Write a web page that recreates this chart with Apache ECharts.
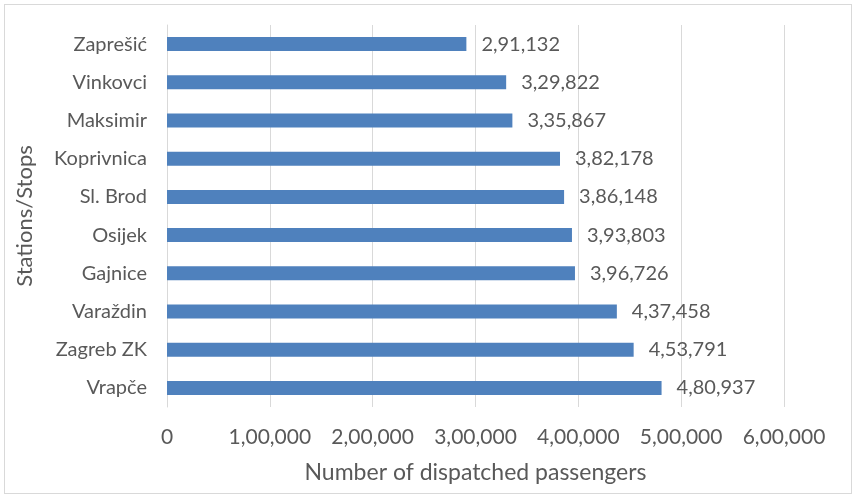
<!DOCTYPE html>
<html>
<head>
<meta charset="utf-8">
<script src="https://cdn.jsdelivr.net/npm/echarts@6/dist/echarts.min.js"></script>
<style>
    html, body { margin: 0; padding: 0; background: #fff; }
    #chart { width: 855px; height: 497px; }
    .frame { position: absolute; left: 4px; top: 4px; width: 846px; height: 488px; border: 1px solid #d9d9d9; pointer-events: none; }
</style>
</head>
<body>
<div id="chart"></div>
<div class="frame"></div>
<script>
// stations, top to bottom
const stations = ['Zaprešić', 'Vinkovci', 'Maksimir', 'Koprivnica', 'Sl. Brod', 'Osijek', 'Gajnice', 'Varaždin', 'Zagreb ZK', 'Vrapče'];
const passengers = [291132, 329822, 335867, 382178, 386148, 393803, 396726, 437458, 453791, 480937];
const axisMax = 600000;
const axisStep = 100000;

// 2,91,132 style grouping
function indianFormat(n) {
    const s = String(Math.round(n));
    if (s.length <= 3) return s;
    const last3 = s.slice(-3);
    let rest = s.slice(0, -3);
    return rest.replace(/\B(?=(\d{2})+(?!\d))/g, ',') + ',' + last3;
}

const textColor = '#595959';
const font = 'Lato';

const chart = echarts.init(document.getElementById('chart'));
const option = {
    animation: false,
    grid: {
        left: 167,
        right: 71,
        top: 25,
        bottom: 90
    },
    xAxis: {
        type: 'value',
        min: 0,
        max: axisMax,
        interval: axisStep,
        name: 'Number of dispatched passengers',
        nameLocation: 'middle',
        nameGap: 54,
        nameTextStyle: {
            color: textColor,
            fontSize: 23,
            fontFamily: font
        },
        axisLine: { show: false },
        axisTick: { show: false },
        axisLabel: {
            color: textColor,
            fontSize: 21,
            fontFamily: font,
            margin: 20,
            formatter: indianFormat
        },
        splitLine: {
            lineStyle: { color: '#d9d9d9', width: 1 }
        }
    },
    yAxis: {
        type: 'category',
        inverse: true,
        data: stations,
        name: 'Stations/Stops',
        nameLocation: 'middle',
        nameGap: 131,
        nameTextStyle: {
            color: textColor,
            fontSize: 22,
            fontFamily: font
        },
        axisLine: {
            show: true,
            lineStyle: { color: '#d9d9d9', width: 1 }
        },
        axisTick: { show: false },
        axisLabel: {
            color: textColor,
            fontSize: 20,
            fontFamily: font,
            margin: 20
        }
    },
    series: [
        {
            type: 'bar',
            data: passengers,
            barWidth: 14,
            itemStyle: { color: '#4f81bd' },
            label: {
                show: true,
                position: 'right',
                distance: 15,
                color: textColor,
                fontSize: 20,
                fontFamily: font,
                formatter: p => indianFormat(p.value)
            }
        }
    ]
};
chart.setOption(option);
</script>
</body>
</html>
